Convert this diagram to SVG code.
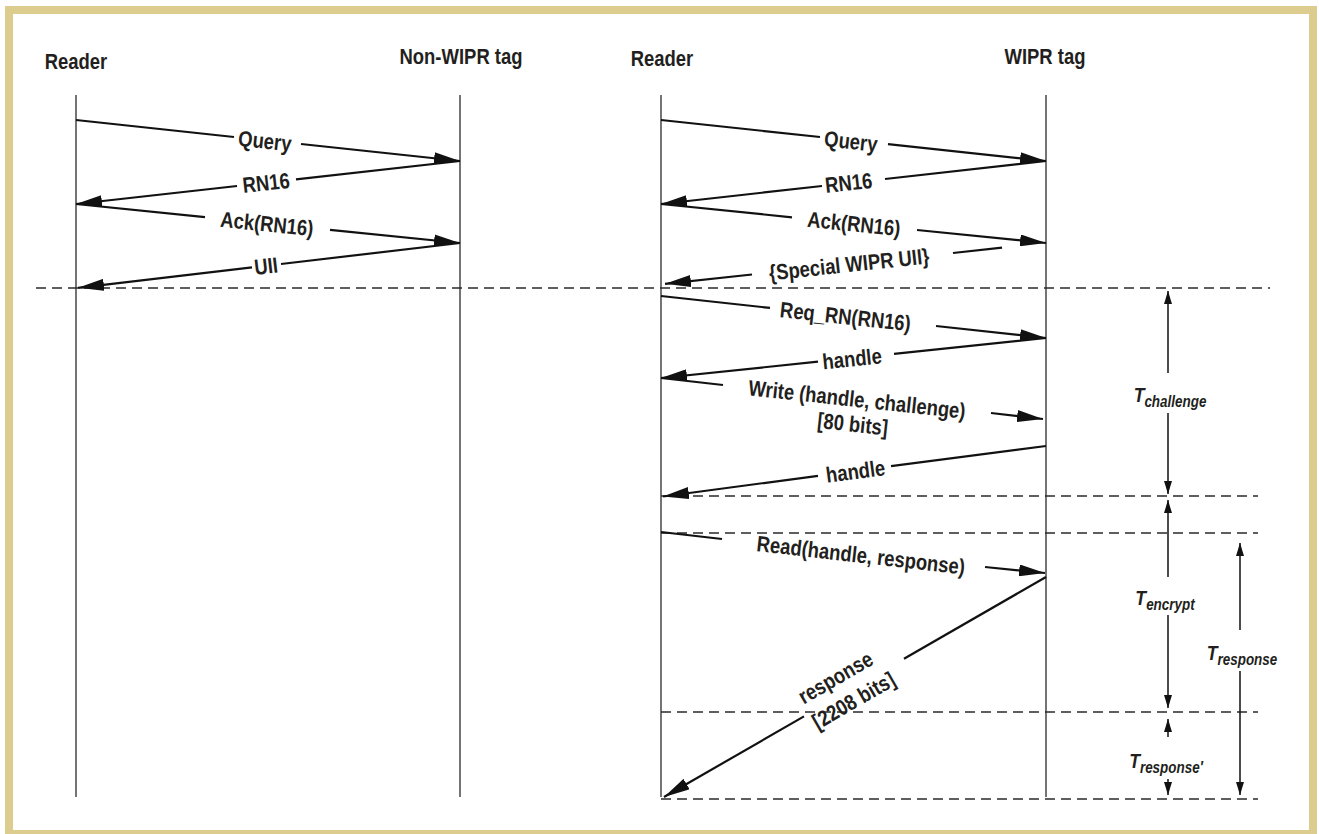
<svg xmlns="http://www.w3.org/2000/svg" width="1319" height="834" viewBox="0 0 1319 834">
<defs>
<style>
.t{font-family:'Liberation Sans','Arial',sans-serif;font-weight:bold;font-size:22px;fill:#231f20}
.ti{font-family:'Liberation Sans','Arial',sans-serif;font-weight:bold;font-style:italic;font-size:21px;fill:#231f20}
.life{stroke:#2a2a2a;stroke-width:1.3;fill:none}
.msg{stroke:#111;stroke-width:2.2;fill:none}
.dash{stroke:#2a2a2a;stroke-width:1.4;stroke-dasharray:10 6;fill:none}
.dim{stroke:#111;stroke-width:1.5;fill:none}
</style>
<marker id="ah" viewBox="0 0 26 12" refX="26" refY="6" markerWidth="26" markerHeight="12" orient="auto" markerUnits="userSpaceOnUse"><path d="M0,0 L26,6 L0,12 z" fill="#111"/></marker>
<marker id="dh" viewBox="0 0 13 8" refX="13" refY="4" markerWidth="13" markerHeight="8" orient="auto" markerUnits="userSpaceOnUse"><path d="M0,0 L13,4 L0,8 z" fill="#111"/></marker>
</defs>
<rect x="0" y="0" width="1319" height="834" fill="#fff"/>
<rect x="9" y="10" width="1304" height="824" fill="none" stroke="#dccc8e" stroke-width="8"/>

<g id="reader-left"><text class="t" transform="translate(76,69) scale(0.84,1)" text-anchor="middle">Reader</text><line class="life" x1="76" y1="95" x2="76" y2="797"/></g>
<g id="non-wipr-tag"><text class="t" transform="translate(461,64) scale(0.84,1)" text-anchor="middle">Non-WIPR tag</text><line class="life" x1="460" y1="95" x2="460" y2="797"/></g>
<g id="reader-right"><text class="t" transform="translate(662,66) scale(0.84,1)" text-anchor="middle">Reader</text><line class="life" x1="661" y1="95" x2="661" y2="797"/></g>
<g id="wipr-tag"><text class="t" transform="translate(1045,64) scale(0.84,1)" text-anchor="middle">WIPR tag</text><line class="life" x1="1046" y1="95" x2="1046" y2="797"/></g>

<g id="phase-lines">
<line class="dash" x1="36" y1="288" x2="1270" y2="288"/>
<line class="dash" x1="661" y1="496" x2="1258" y2="496"/>
<line class="dash" x1="661" y1="533" x2="1258" y2="533"/>
<line class="dash" x1="661" y1="712" x2="1258" y2="712"/>
<line class="dash" x1="661" y1="799" x2="1258" y2="799"/>
</g>

<g id="connectors">
<line class="msg" x1="76" y1="120" x2="234" y2="137"/><line class="msg" x1="301" y1="144" x2="460" y2="161" marker-end="url(#ah)"/>
<line class="msg" x1="460" y1="161" x2="296" y2="179.4"/><line class="msg" x1="237" y1="186" x2="76" y2="204" marker-end="url(#ah)"/>
<line class="msg" x1="76" y1="204" x2="205" y2="217.1"/><line class="msg" x1="330" y1="229.8" x2="460" y2="243" marker-end="url(#ah)"/>
<line class="msg" x1="460" y1="243" x2="281" y2="264"/><line class="msg" x1="252" y1="267.4" x2="78" y2="287.8" marker-end="url(#ah)"/>
<line class="msg" x1="661" y1="120" x2="820" y2="137"/><line class="msg" x1="888" y1="144.2" x2="1046" y2="161" marker-end="url(#ah)"/>
<line class="msg" x1="1046" y1="161" x2="885" y2="179"/><line class="msg" x1="822" y1="186" x2="661" y2="204" marker-end="url(#ah)"/>
<line class="msg" x1="661" y1="204" x2="792" y2="217.3"/><line class="msg" x1="917" y1="230" x2="1046" y2="243" marker-end="url(#ah)"/>
<line class="msg" x1="1002" y1="247.7" x2="953" y2="253"/><line class="msg" x1="752" y1="274.5" x2="665" y2="283.8" marker-end="url(#ah)"/>
<line class="msg" x1="661" y1="296" x2="770" y2="307.9"/><line class="msg" x1="936" y1="326" x2="1046" y2="338" marker-end="url(#ah)"/>
<line class="msg" x1="1046" y1="338" x2="894" y2="353.8"/><line class="msg" x1="818" y1="361.7" x2="661" y2="378" marker-end="url(#ah)"/>
<line class="msg" x1="661" y1="378" x2="723" y2="385"/><line class="msg" x1="991" y1="413" x2="1043" y2="419" marker-end="url(#ah)"/>
<line class="msg" x1="1046" y1="446" x2="891" y2="466.2"/><line class="msg" x1="818" y1="475.8" x2="663" y2="496.5" marker-end="url(#ah)"/>
<line class="msg" x1="661" y1="532" x2="722" y2="539"/><line class="msg" x1="985" y1="567" x2="1045" y2="573" marker-end="url(#ah)"/>
<line class="msg" x1="1046" y1="577" x2="904" y2="658.8"/><line class="msg" x1="804" y1="716.4" x2="664" y2="797" marker-end="url(#ah)"/>
<line class="dim" x1="1168" y1="373" x2="1168" y2="291" marker-end="url(#dh)"/>
<line class="dim" x1="1168" y1="413" x2="1168" y2="494" marker-end="url(#dh)"/>
<line class="dim" x1="1168" y1="577" x2="1168" y2="500" marker-end="url(#dh)"/>
<line class="dim" x1="1168" y1="615" x2="1168" y2="708" marker-end="url(#dh)"/>
<line class="dim" x1="1240" y1="630" x2="1240" y2="543" marker-end="url(#dh)"/>
<line class="dim" x1="1240" y1="671" x2="1240" y2="795" marker-end="url(#dh)"/>
<line class="dim" x1="1168" y1="737" x2="1168" y2="719" marker-end="url(#dh)"/>
<line class="dim" x1="1168" y1="779" x2="1168" y2="795" marker-end="url(#dh)"/>
</g>

<g id="labels">
<text class="t" text-anchor="middle" transform="translate(265,140.6) rotate(6.1) scale(0.84,1)" y="8">Query</text>
<text class="t" text-anchor="middle" transform="translate(266,182.5) rotate(-6.4) scale(0.84,1)" y="8">RN16</text>
<text class="t" text-anchor="middle" transform="translate(267,223.5) rotate(5.8) scale(0.84,1)" y="8">Ack(RN16)</text>
<text class="t" text-anchor="middle" transform="translate(266,265.8) rotate(-6.7) scale(0.84,1)" y="8">UII</text>
<text class="t" text-anchor="middle" transform="translate(851,141) rotate(6.1) scale(0.84,1)" y="8">Query</text>
<text class="t" text-anchor="middle" transform="translate(848.5,182.5) rotate(-6.4) scale(0.84,1)" y="8">RN16</text>
<text class="t" text-anchor="middle" transform="translate(854,223.5) rotate(5.8) scale(0.84,1)" y="8">Ack(RN16)</text>
<text class="t" text-anchor="middle" transform="translate(849,264) rotate(-6.1) scale(0.84,1)" y="8">{Special WIPR UII}</text>
<text class="t" text-anchor="middle" transform="translate(845.5,316.2) rotate(6.2) scale(0.84,1)" y="8">Req_RN(RN16)</text>
<text class="t" text-anchor="middle" transform="translate(852,358.4) rotate(-5.9) scale(0.84,1)" y="8">handle</text>
<text class="t" text-anchor="middle" transform="translate(857,400) rotate(6.2) scale(0.84,1)"><tspan x="0" y="7">Write (handle, challenge)</tspan><tspan x="-2" y="32">[80 bits]</tspan></text>
<text class="t" text-anchor="middle" transform="translate(855.5,471) rotate(-7.5) scale(0.84,1)" y="8">handle</text>
<text class="t" text-anchor="middle" transform="translate(861,554.8) rotate(6.5) scale(0.84,1)" y="8">Read(handle, response)</text>
<text class="t" text-anchor="middle" transform="translate(852,686) rotate(-30) scale(0.84,1)"><tspan x="-12" y="-8">response</tspan><tspan x="-7" y="21">[2208 bits]</tspan></text>
<text class="ti" text-anchor="middle" transform="translate(1170,402) scale(0.84,1)">T<tspan dy="5" font-size="16">challenge</tspan></text>
<text class="ti" text-anchor="middle" transform="translate(1165,605) scale(0.84,1)">T<tspan dy="5" font-size="16">encrypt</tspan></text>
<text class="ti" text-anchor="middle" transform="translate(1242,660) scale(0.84,1)">T<tspan dy="5" font-size="16">response</tspan></text>
<text class="ti" text-anchor="middle" transform="translate(1166,768) scale(0.84,1)">T<tspan dy="5" font-size="16">response′</tspan></text>
</g>
</svg>
